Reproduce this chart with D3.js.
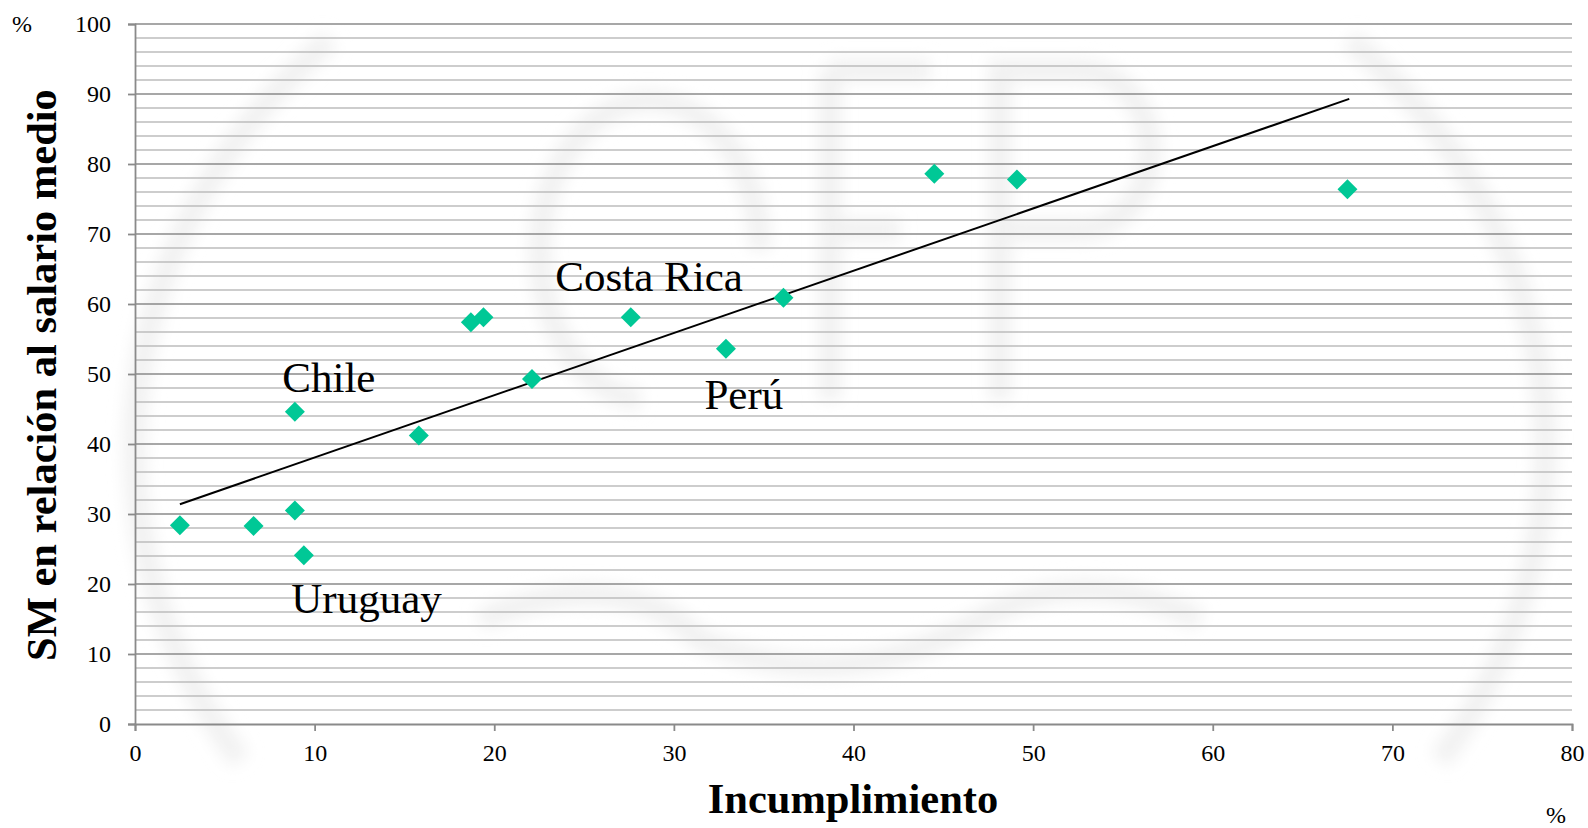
<!DOCTYPE html>
<html>
<head>
	<script src="https://cdnjs.cloudflare.com/ajax/libs/d3/7.8.5/d3.min.js"></script>
	<style>
		body { margin: 0 ; background: white ; }
		svg { display: block ; }
		svg text { font-family: "Liberation Serif", "Times New Roman", serif ; }
	</style>
</head>
<body>
	<svg id="canvas"></svg>
</body>
<script>
	// incumplimiento (%) vs SM en relación al salario medio (%)
	let incumplimiento = [ 2.5, 6.6, 8.9, 9.4, 8.9, 15.8, 18.7, 19.4, 22.1, 27.6, 32.9, 36.1, 44.5, 49.1, 67.5 ] ;
	let smRatio = [ 28.4, 28.3, 30.5, 24.1, 44.6, 41.2, 57.4, 58.1, 49.3, 58.1, 53.6, 60.9, 78.6, 77.8, 76.4 ] ;

	// linear trend, read at its two ends
	let trendX = [ 2.5, 67.6 ] ;
	let trendY = [ 31.4, 89.3 ] ;

	let countryNames = [ "Costa Rica", "Chile", "Perú", "Uruguay" ] ;
	let countryX = [ 23.4, 8.2, 31.7, 8.7 ] ;
	let countryY = [ 61.9, 47.5, 45.0, 15.8 ] ;

	let xTicks = [ 0, 10, 20, 30, 40, 50, 60, 70, 80 ] ;
	let yTicks = [ 0, 10, 20, 30, 40, 50, 60, 70, 80, 90, 100 ] ;
	let yMinor = d3.range( 0, 101, 2 ) ;

	let geom = {
		width: 1588,
		height: 828,
		margin: { left: 135, right: 16, top: 24, bottom: 104 }
	} ;

	let scales = {
		x: d3.scaleLinear()
			.domain( [0, 80] )
			.range( [ geom.margin.left, geom.width - geom.margin.right ] ),
		y: d3.scaleLinear()
			.domain( [0, 100] )
			.range( [ geom.height - geom.margin.bottom, geom.margin.top ] )
	} ;

	let svg = d3.select( 'svg' )
		.attr( 'width', geom.width )
		.attr( 'height', geom.height ) ;

	// faint watermark behind the chart
	let defs = svg.append( 'defs' ) ;
	defs.append( 'filter' ).attr( 'id', 'soft' )
		.append( 'feGaussianBlur' ).attr( 'stdDeviation', 8 ) ;
	let wm = svg.append( 'g' )
		.attr( 'filter', 'url(#soft)' )
		.attr( 'fill', 'none' )
		.attr( 'stroke', '#f1f1f1' )
		.attr( 'stroke-width', 22 ) ;
	wm.append( 'path' ).attr( 'd', 'M 240 760 A 620 560 0 0 1 330 40' ) ;
	wm.append( 'path' ).attr( 'd', 'M 1440 760 A 620 560 0 0 0 1350 40' ) ;
	wm.append( 'path' ).attr( 'd', 'M 640 400 A 110 150 0 1 1 760 250' ) ;
	wm.append( 'path' ).attr( 'd', 'M 830 70 L 830 400 M 830 70 L 930 70 M 830 230 L 900 230' ) ;
	wm.append( 'path' ).attr( 'd', 'M 1000 400 L 1000 70 L 1080 70 A 70 80 0 0 1 1080 230 L 1000 230' ) ;
	wm.append( 'path' ).attr( 'd', 'M 480 620 Q 620 560 700 640 Q 840 700 980 620 Q 1080 560 1200 620' ) ;

	// gridlines
	let grid = svg.append( 'g' ).attr( 'class', 'grid' ) ;
	grid.selectAll( 'line.minor' )
		.data( yMinor.filter( v => v % 10 != 0 ) )
		.enter().append( 'line' )
		.attr( 'class', 'minor' )
		.attr( 'x1', scales.x(0) ).attr( 'x2', scales.x(80) )
		.attr( 'y1', d => scales.y(d) ).attr( 'y2', d => scales.y(d) )
		.attr( 'stroke', '#bdbdbd' )
		.attr( 'stroke-width', 1.6 ) ;
	grid.selectAll( 'line.major' )
		.data( yTicks.filter( v => v > 0 ) )
		.enter().append( 'line' )
		.attr( 'class', 'major' )
		.attr( 'x1', scales.x(0) ).attr( 'x2', scales.x(80) )
		.attr( 'y1', d => scales.y(d) ).attr( 'y2', d => scales.y(d) )
		.attr( 'stroke', '#8a8a8a' )
		.attr( 'stroke-width', 1.6 ) ;

	// axes
	let xaxis = svg.append( 'g' )
		.attr( 'transform', 'translate(0,' + scales.y(0) + ')' )
		.call( d3.axisBottom( scales.x ).tickValues( xTicks ).tickSize( 7 ).tickPadding( 13 ) ) ;
	let yaxis = svg.append( 'g' )
		.attr( 'transform', 'translate(' + scales.x(0) + ',0)' )
		.call( d3.axisLeft( scales.y ).tickValues( yTicks ).tickSize( 7 ).tickPadding( 17 ) ) ;
	svg.selectAll( '.domain, .tick line' )
		.attr( 'stroke', '#8a8a8a' )
		.attr( 'stroke-width', 1.8 ) ;
	svg.selectAll( '.tick text' )
		.style( 'font-family', '"Liberation Serif", serif' )
		.style( 'font-size', '24px' )
		.attr( 'fill', 'black' ) ;

	// trend line
	svg.append( 'path' )
		.datum( d3.zip( trendX, trendY ) )
		.attr( 'fill', 'none' )
		.attr( 'stroke', 'black' )
		.attr( 'stroke-width', 2 )
		.attr( 'd', d3.line().x( d => scales.x(d[0]) ).y( d => scales.y(d[1]) ) ) ;

	// points
	let diamond = d3.symbol( d3.symbolSquare, 200 ) ;
	svg.selectAll( 'path.pt' )
		.data( d3.zip( incumplimiento, smRatio ) )
		.enter().append( 'path' )
		.attr( 'class', 'pt' )
		.attr( 'd', diamond )
		.attr( 'transform', d => 'translate(' + scales.x(d[0]) + ',' + scales.y(d[1]) + ') rotate(45)' )
		.attr( 'fill', '#00c896' ) ;

	// country labels
	svg.selectAll( 'text.country' )
		.data( countryNames )
		.enter().append( 'text' )
		.attr( 'class', 'country' )
		.attr( 'x', (d, i) => scales.x( countryX[i] ) )
		.attr( 'y', (d, i) => scales.y( countryY[i] ) )
		.style( 'font-size', '43px' )
		.text( d => d ) ;

	// axis titles
	svg.append( 'text' )
		.attr( 'x', 853 ).attr( 'y', 813 )
		.attr( 'text-anchor', 'middle' )
		.style( 'font-weight', 'bold' )
		.style( 'font-size', '42.5px' )
		.text( 'Incumplimiento' ) ;
	svg.append( 'text' )
		.attr( 'transform', 'translate(56,375) rotate(-90)' )
		.attr( 'text-anchor', 'middle' )
		.style( 'font-weight', 'bold' )
		.style( 'font-size', '42.5px' )
		.text( 'SM en relación al salario medio' ) ;

	// units
	svg.append( 'text' ).attr( 'x', 12 ).attr( 'y', 32 ).style( 'font-size', '24px' ).text( '%' ) ;
	svg.append( 'text' ).attr( 'x', 1546 ).attr( 'y', 823 ).style( 'font-size', '24px' ).text( '%' ) ;
</script>
</html>
